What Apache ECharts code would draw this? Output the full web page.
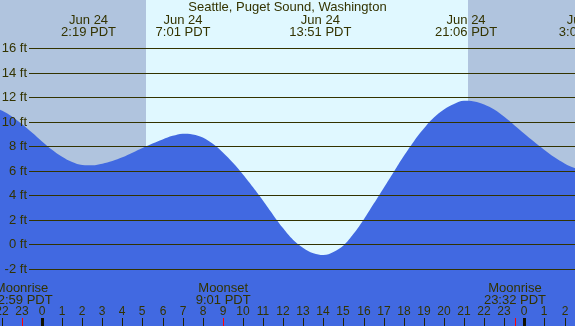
<!DOCTYPE html>
<html><head><meta charset="utf-8">
<script src="https://cdn.jsdelivr.net/npm/echarts@6/dist/echarts.min.js"></script>
<style>html,body{margin:0;padding:0;background:#e0f8ff}#c{width:575px;height:326px}</style>
</head><body><div id="c"></div>
<script>
const chartTitle = 'Seattle, Puget Sound, Washington';
// tide curve readings (hours since midnight Jun 24, feet)
const tideHours = [-2.5,-2,-1.5,-1,-0.5,0,0.5,1,1.5,2,2.5,3,3.5,4,4.5,5,5.5,6,6.5,7,7.5,8,8.5,9,9.5,10,10.5,11,11.5,12,12.5,13,13.5,14,14.5,15,15.5,16,16.5,17,17.5,18,18.5,19,19.5,20,20.5,21,21.5,22,22.5,23,23.5,24,24.5,25,25.5,26,26.5,27];
const tideFeet  = [11.23,10.92,10.44,9.82,9.12,8.40,7.72,7.15,6.72,6.48,6.45,6.58,6.8,7.1,7.47,7.85,8.22,8.55,8.85,9.03,8.97,8.72,8.2,7.5,6.65,5.7,4.65,3.55,2.4,1.3,0.35,-0.3,-0.73,-0.87,-0.62,-0.1,0.85,2.0,3.3,4.6,5.9,7.2,8.4,9.45,10.35,11.0,11.45,11.72,11.66,11.42,11.0,10.4,9.72,9.02,8.35,7.7,7.1,6.6,6.22,6.02];
const extremeHours = [2.317, 7.017, 13.85, 21.1, 27.08];
const extremeDates = ['Jun 24','Jun 24','Jun 24','Jun 24','Jun 25'];
const extremeTimes = ['2:19 PDT','7:01 PDT','13:51 PDT','21:06 PDT','3:05 PDT'];
const feetTicks = [-2,0,2,4,6,8,10,12,14,16];
const hourTicks = [-2,-1,0,1,2,3,4,5,6,7,8,9,10,11,12,13,14,15,16,17,18,19,20,21,22,23,24,25,26];
const hourLabels = ['22','23','0','1','2','3','4','5','6','7','8','9','10','11','12','13','14','15','16','17','18','19','20','21','22','23','0','1','2'];
const nightStart = [-3, 21.183];
const nightEnd = [5.167, 28];
const moonHours = [-1.017, 9.017, 23.533];
const moonEvents = ['Moonrise','Moonset','Moonrise'];
const moonTimes = ['22:59 PDT','9:01 PDT','23:32 PDT'];

const XMIN = -2.09, XMAX = 26.52, YMIN = -6.67, YMAX = 19.94;
const TXT = '#333300';
const FONT = '13px "Liberation Sans", Arial, sans-serif';
const chart = echarts.init(document.getElementById('c'));
chart.setOption({
  animation: false,
  backgroundColor: '#e0f8ff',
  title: { text: chartTitle, left: 'center', top: 0, padding: 0,
    textStyle: { fontFamily: '"Liberation Sans", Arial', fontSize: 13, fontWeight: 'normal', color: TXT, lineHeight: 14 } },
  grid: { left: 0, right: 0, top: 0, bottom: 0 },
  xAxis: { type: 'value', min: XMIN, max: XMAX, show: false },
  yAxis: { type: 'value', min: YMIN, max: YMAX, show: false },
  series: [
    { type: 'custom', z: 0, silent: true,
      data: nightStart.map((s, i) => [s, nightEnd[i]]),
      encode: { x: [0, 1] },
      renderItem(params, api) {
        const p0 = api.coord([api.value(0), YMAX]);
        const p1 = api.coord([api.value(1), YMIN]);
        return { type: 'rect', shape: { x: Math.round(p0[0]), y: 0, width: Math.round(p1[0]) - Math.round(p0[0]), height: 326 },
          style: { fill: '#b0c4de' } };
      } },
    { type: 'line', z: 2, silent: true, smooth: 0.4, symbol: 'none',
      data: tideHours.map((h, i) => [h, tideFeet[i]]),
      lineStyle: { width: 0, color: '#4169e1' },
      areaStyle: { color: '#4169e1', opacity: 1, origin: 'start' } },
    { type: 'custom', z: 5, silent: true,
      data: feetTicks.map(v => [0, v]),
      renderItem(params, api) {
        const y = Math.round(api.coord([0, api.value(1)])[1]) + 0.5;
        return { type: 'group', children: [
          { type: 'line', shape: { x1: 29, y1: y, x2: 575, y2: y }, style: { stroke: TXT, lineWidth: 1 } },
          { type: 'text', style: { text: api.value(1) + ' ft', x: 27, y: y, align: 'right', verticalAlign: 'middle', font: FONT, fill: TXT } }
        ] };
      } },
    { type: 'custom', z: 6, silent: true,
      data: extremeHours.map(h => [h, 0]),
      renderItem(params, api) {
        const x = api.coord([api.value(0), 0])[0];
        const i = params.dataIndex;
        return { type: 'group', children: [
          { type: 'text', style: { text: extremeDates[i], x: x, y: 20, align: 'center', verticalAlign: 'middle', font: FONT, fill: TXT } },
          { type: 'text', style: { text: extremeTimes[i], x: x, y: 32, align: 'center', verticalAlign: 'middle', font: FONT, fill: TXT } }
        ] };
      } },
    { type: 'custom', z: 6, silent: true,
      data: hourTicks.map(h => [h, 0]),
      renderItem(params, api) {
        const h = api.value(0);
        const x = Math.round(api.coord([h, 0])[0]);
        const midnight = (h % 24) === 0;
        return { type: 'group', children: [
          { type: 'text', style: { text: hourLabels[params.dataIndex], x: x, y: 312, align: 'center', verticalAlign: 'middle', font: '12px "Liberation Sans", Arial', fill: TXT } },
          midnight
            ? { type: 'rect', shape: { x: x - 1, y: 318, width: 3, height: 8 }, style: { fill: '#111100' } }
            : { type: 'line', shape: { x1: x + 0.5, y1: 318, x2: x + 0.5, y2: 326 }, style: { stroke: '#222200', lineWidth: 1 } }
        ] };
      } },
    { type: 'custom', z: 7, silent: true,
      data: moonHours.map(h => [h, 0]),
      renderItem(params, api) {
        const x = api.coord([api.value(0), 0])[0];
        const i = params.dataIndex;
        const xr = Math.round(x) + 0.5;
        return { type: 'group', children: [
          { type: 'text', style: { text: moonEvents[i], x: x, y: 288, align: 'center', verticalAlign: 'middle', font: FONT, fill: TXT } },
          { type: 'text', style: { text: moonTimes[i], x: x, y: 300, align: 'center', verticalAlign: 'middle', font: FONT, fill: TXT } },
          { type: 'line', shape: { x1: xr, y1: 318, x2: xr, y2: 326 }, style: { stroke: '#ff0000', lineWidth: 1 } }
        ] };
      } }
  ]
});
</script></body></html>
